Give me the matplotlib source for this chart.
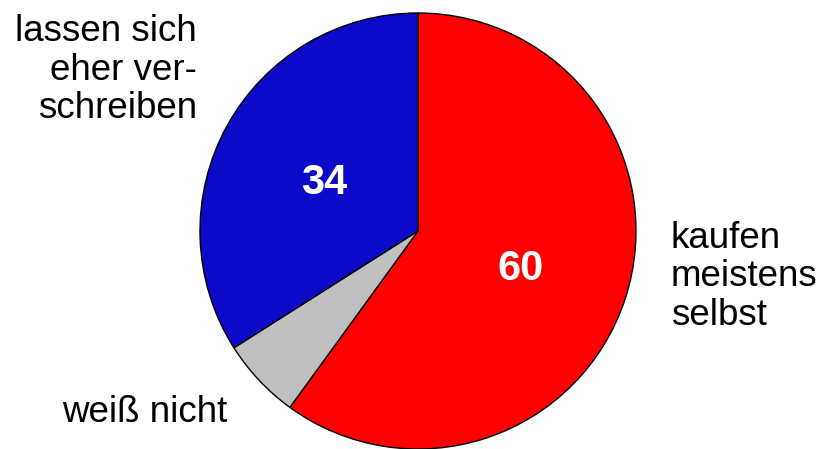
import matplotlib.pyplot as plt

# Daten
labels = ['kaufen\nmeistens\nselbst', 'weiß nicht', 'lassen sich\neher ver-\nschreiben']
values = [60, 6, 34]
colors = ['#ff0000', '#c0c0c0', '#0a0ac8']
shown = ['60', '', '34']

plt.rcParams['font.family'] = ['Liberation Sans', 'DejaVu Sans']

fig = plt.figure(figsize=(8.23, 4.49), dpi=100)
ax = fig.add_axes([0, 0, 1, 1])

# Torte im Uhrzeigersinn ab 12 Uhr
ax.pie(values, colors=colors, startangle=90, counterclock=False,
       center=(418, 218), radius=218, frame=True,
       wedgeprops={'edgecolor': 'black', 'linewidth': 1})
ax.set_xlim(0, 823)
ax.set_ylim(0, 449)
ax.set_aspect('equal')
ax.axis('off')

# Beschriftungen
ax.text(197, 379, labels[2], ha='right', va='center', fontsize=26.5, linespacing=1.12)
ax.text(671, 172, labels[0], ha='left', va='center', fontsize=26.5, linespacing=1.12)
ax.text(62, 36, labels[1], ha='left', va='center', fontsize=26.5)

# Werte in den Segmenten
ax.text(324, 266, shown[2], ha='center', va='center', fontsize=30,
        fontweight='bold', color='white')
ax.text(521, 180, shown[0], ha='center', va='center', fontsize=30,
        fontweight='bold', color='white')

plt.savefig('out.png', dpi=100)
